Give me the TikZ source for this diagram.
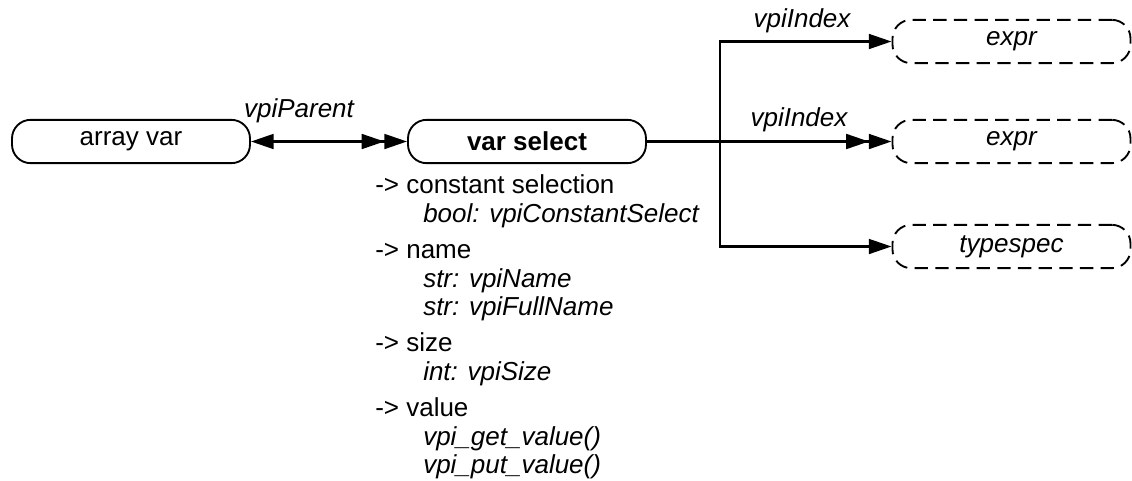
\documentclass[tikz,border=0pt]{standalone}
\usepackage{fontspec}
\setmainfont{Liberation Sans}
\usetikzlibrary{arrows.meta}
\tikzset{
  txt/.style={font=\fontsize{19.5}{23}\selectfont, inner sep=0pt},
  objbox/.style={txt, draw, line width=1.4pt, rounded corners=14pt,
    minimum width=178.5pt, minimum height=32.5pt},
  dashbox/.style={objbox, dash pattern=on 10pt off 5.5pt, font=\fontsize{19.5}{23}\selectfont\itshape},
  lbl/.style={txt, font=\fontsize{19.5}{23}\selectfont\itshape, anchor=base},
  item/.style={txt, anchor=base west},
  sub/.style={txt, anchor=base west, font=\fontsize{19.5}{23}\selectfont\itshape},
  conn/.style={line width=2pt},
  onehead/.style={-{Triangle[length=17pt,width=11pt]}},
  twohead/.style={-{Triangle[length=17pt,width=11pt,sep=0pt]Triangle[length=17pt,width=11pt]}},
  bothhead/.style={{Triangle[length=17pt,width=11pt]}-{Triangle[length=17pt,width=11pt,sep=0pt]Triangle[length=17pt,width=11pt]}},
}
\begin{document}
\begin{tikzpicture}[x=0.75pt,y=-0.75pt]
\useasboundingbox (0,0) rectangle (1132,480);
% main nodes
\node[objbox] (av) at (131,141.5) {array var};
\node[objbox, font=\fontsize{19.5}{23}\selectfont\bfseries] (vs) at (527,141.5) {var select};
\node[dashbox] (e1) at (1011.5,41.5) {expr};
\node[dashbox] (e2) at (1011.5,141.5) {expr};
\node[dashbox] (ts) at (1011.5,246.5) {typespec};
% connectors
\draw[conn, bothhead] (av) -- (vs);
\draw[conn, twohead] (vs) -- (e2);
\coordinate (split) at (720,141.5);
\draw[conn, onehead] (split) |- (e1.west);
\draw[conn, onehead] (split) |- (ts.west);
% labels
\node[lbl] (lp) at (299,117) {vpiParent};
\node[lbl] (li1) at (802,27) {vpiIndex};
\node[lbl] (li2) at (799,126) {vpiIndex};
% properties
\node[item] (p1) at (375,193) {-> constant selection};
\node[sub] (p1a) at (423,222) {bool: vpiConstantSelect};
\node[item] (p2) at (375,258) {-> name};
\node[sub] (p2a) at (423,287) {str: vpiName};
\node[sub] (p2b) at (423,315) {str: vpiFullName};
\node[item] (p3) at (375,351) {-> size};
\node[sub] (p3a) at (423,380) {int: vpiSize};
\node[item] (p4) at (375,416) {-> value};
\node[sub] (p4a) at (423,445) {vpi\_get\_value()};
\node[sub] (p4b) at (423,473) {vpi\_put\_value()};
\end{tikzpicture}
\end{document}
